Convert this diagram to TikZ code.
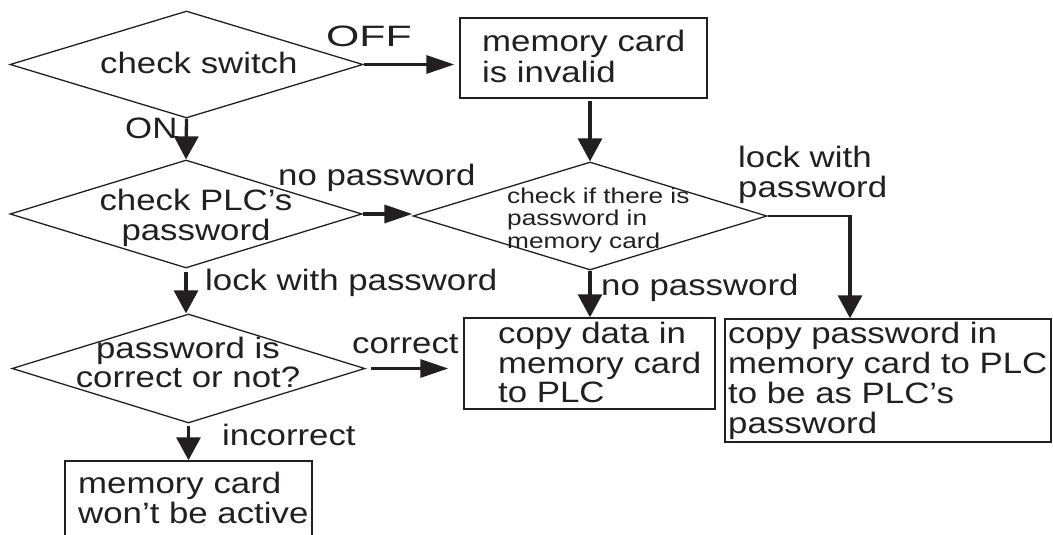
\documentclass[tikz,border=0pt]{standalone}
\usepackage{fontspec}
\setmainfont{Liberation Sans}
\usepackage{graphicx}
\usetikzlibrary{shapes.geometric,arrows.meta}
\definecolor{ink}{RGB}{35,31,32}
\newcommand{\hsx}[1]{\scalebox{1.18}[1]{#1}}
\newcommand{\hsy}[1]{\scalebox{1.22}[1]{#1}}
\begin{document}
\begin{tikzpicture}[x=1pt,y=-1pt,
  dia/.style={diamond, draw=ink, line width=1.3pt, inner sep=0pt},
  boxn/.style={rectangle, draw=ink, line width=1.5pt, inner sep=0pt},
  txt/.style={inner sep=0pt, text=ink, font=\fontsize{29.5}{29.5}\selectfont},
  smalltxt/.style={inner sep=0pt, text=ink, font=\fontsize{21.5}{22.5}\selectfont},
  arrv/.style={draw=ink, line width=3.3pt, -{Triangle[length=23pt,width=24pt]}},
  arrh/.style={draw=ink, line width=3.3pt, -{Triangle[length=28pt,width=18pt]}}]
\useasboundingbox (0,0) rectangle (1053,535);
\clip (0,0) rectangle (1053,535);

% shapes
\node[dia, minimum width=353pt, minimum height=107pt] (d1) at (186.5,64.5) {};
\node[dia, minimum width=352pt, minimum height=108pt] (d3) at (186,214) {};
\node[dia, minimum width=353pt, minimum height=109pt] (d4) at (188.5,368.5) {};
\node[dia, minimum width=354pt, minimum height=108pt] (d2) at (590,216) {};
\node[boxn, minimum width=247pt, minimum height=80pt] (b1) at (583.5,58) {};
\node[boxn, minimum width=251pt, minimum height=91pt] (b3) at (589.5,363.5) {};
\node[boxn, minimum width=326pt, minimum height=123pt] (b4) at (888,380.5) {};
\node[boxn, minimum width=247pt, minimum height=120pt] (b5) at (188.5,521) {};

% texts in shapes
\node[txt, anchor=base west] (t1) at (100,74) {\hsx{check switch}};
\node[txt, anchor=base west] (t2) at (482,52) {\hsx{\begin{tabular}[t]{@{}l@{}}memory card\\is invalid\end{tabular}}};
\node[txt, anchor=base] (t3) at (196,210) {\hsx{\begin{tabular}[t]{@{}c@{}}check PLC’s\\password\end{tabular}}};
\node[smalltxt, anchor=base west] (t4) at (507,203) {\hsy{\begin{tabular}[t]{@{}l@{}}check if there is\\password in\\memory card\end{tabular}}};
\node[txt, anchor=base] (t5) at (188,358) {\hsx{\begin{tabular}[t]{@{}c@{}}password is\\correct or not?\end{tabular}}};
\node[txt, anchor=base west] (t6) at (498,343) {\hsx{\begin{tabular}[t]{@{}l@{}}copy data in\\memory card\\to PLC\end{tabular}}};
\node[txt, anchor=base west] (t7) at (728,343) {\hsx{\begin{tabular}[t]{@{}l@{}}copy password in\\memory card to PLC\\to be as PLC’s\\password\end{tabular}}};
\node[txt, anchor=base west] (t8) at (78,493) {\hsx{\begin{tabular}[t]{@{}l@{}}memory card\\won’t be active\end{tabular}}};

% connector labels
\node[txt, anchor=base west] (l1) at (326,47) {\scalebox{1.45}[1]{OFF}};
\node[txt, anchor=base west] (l2) at (125,138) {\hsx{ON}};
\node[txt, anchor=base west] (l3) at (278,185) {\hsx{no password}};
\node[txt, anchor=base west] (l4) at (738,167) {\hsx{\begin{tabular}[t]{@{}l@{}}lock with\\password\end{tabular}}};
\node[txt, anchor=base west] (l5) at (205,290) {\hsx{lock with password}};
\node[txt, anchor=base west] (l6) at (601,295) {\hsx{no password}};
\node[txt, anchor=base west] (l7) at (352,353) {\hsx{correct}};
\node[txt, anchor=base west] (l8) at (222,445) {\hsx{incorrect}};

% connectors
\draw[arrh, shorten >=5pt] (d1.east) -- (d1.east -| b1.west);
\draw[arrv] (d1.south) -- (d3.north);
\draw[arrv, shorten <=2pt] (b1.south -| d2.north) -- (d2.north);
\draw[arrh] (d3.east) -- (d3.east -| d2.west);
\draw[arrv, shorten <=3pt] (d3.south) -- (d3.south |- d4.north);
\draw[arrh, shorten <=5pt, shorten >=15pt] (d4.east) -- (d4.east -| b3.west);
\draw[arrv] (d2.south) -- (d2.south |- b3.north);
\coordinate (c1) at (850,216);
\draw[draw=ink, line width=2pt] (d2.east) -- (c1);
\draw[arrv] ([yshift=1pt]c1) -- (c1 |- b4.north);
\draw[arrv, shorten <=2pt] (d4.south) -- (d4.south |- b5.north);
\end{tikzpicture}
\end{document}
